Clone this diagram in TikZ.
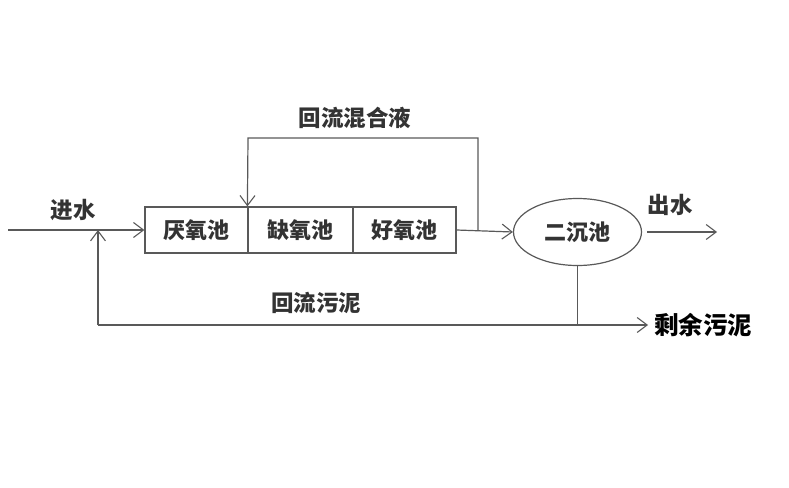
\documentclass[tikz,border=0pt]{standalone}
\usepackage{fontspec}
\newfontfamily\cjk{Noto Sans CJK SC}
\usetikzlibrary{arrows.meta,shapes.geometric}
\begin{document}
\begin{tikzpicture}[x=1pt,y=-1pt,
  line/.style={draw=black!65,line width=1.2pt},
  arr/.style={line,-{Straight Barb[length=10pt,width=15pt,line width=1.1pt]}},
  tank/.style={line,rectangle,minimum height=46pt,inner sep=0pt,font=\cjk\fontsize{22}{22}\selectfont\bfseries,text=black!80},
  lbl/.style={font=\cjk\fontsize{22.5}{22.5}\selectfont\bfseries,text=black!80,inner sep=0pt},
]
\useasboundingbox (0,0) rectangle (789,487);
\node[tank,minimum width=103pt] (b1) at (196.5,230) {厌氧池};
\node[tank,minimum width=105pt] (b2) at (300.5,230) {缺氧池};
\node[tank,minimum width=103pt] (b3) at (404.5,230) {好氧池};
\node[line,ellipse,minimum width=128pt,minimum height=67pt,inner sep=0pt,font=\cjk\fontsize{22}{22}\selectfont\bfseries,text=black!80] (e) at (577.5,232) {二沉池};
\coordinate (in) at (8,230);
\coordinate (j) at (98,230);
\coordinate (bl) at (98,325);
\coordinate (sb) at (577.5,325);
\coordinate (rs) at (648,325);
\coordinate (t1) at (478,230);
\coordinate (tl) at (248,138);
\coordinate (o1) at (647,232);
\coordinate (o2) at (717,232);
\draw[arr] (in) -- (b1.west);
\draw[arr] (bl) -- (j);
\draw[arr] (bl) -- (rs);
\draw[line] (e.south) -- (sb);
\draw[arr] (b3.east) -- (e.west);
\draw[arr] (t1) |- (tl) -- (b2.north west);
\draw[arr] (o1) -- (o2);
\node[lbl] (l1) at (73,210) {进水};
\node[lbl] (l2) at (355,118) {回流混合液};
\node[lbl] (l3) at (316,303) {回流污泥};
\node[lbl] (l4) at (670,205) {出水};
\node[lbl,anchor=west,font=\cjk\fontsize{24.5}{24.5}\selectfont\bfseries,text=black] (l5) at (654,325) {剩余污泥};
\end{tikzpicture}
\end{document}
